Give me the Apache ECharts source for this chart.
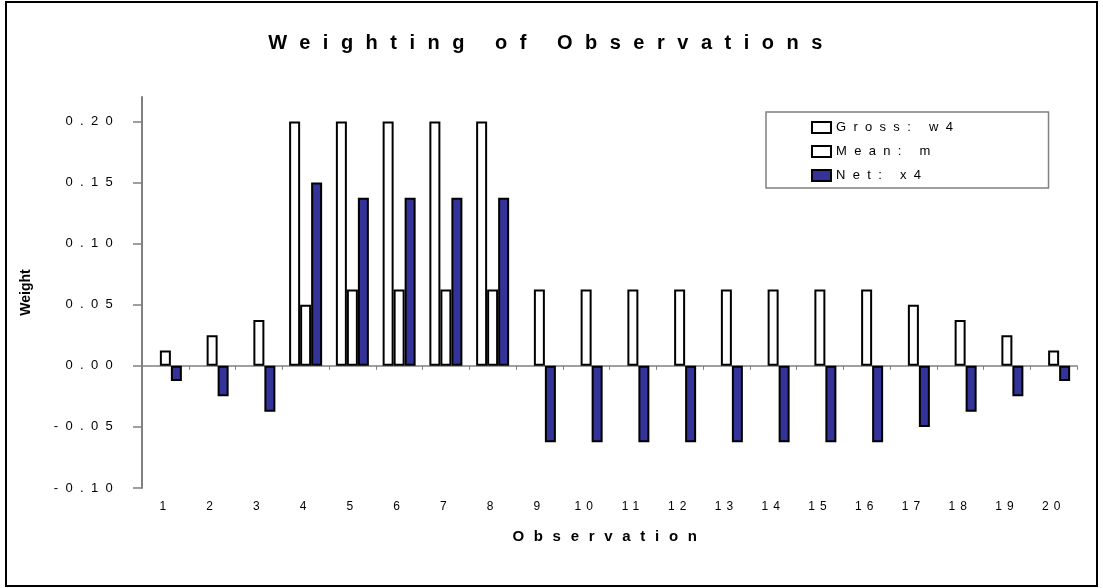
<!DOCTYPE html>
<html>
<head>
<meta charset="utf-8">
<script src="https://cdn.jsdelivr.net/npm/echarts@6/dist/echarts.min.js"></script>
<style>
html,body{margin:0;padding:0;background:#fff;}
#chart{width:1103px;height:588px;}
</style>
</head>
<body>
<div id="chart"></div>
<script>
// ---- data ----
const categories = ['1','2','3','4','5','6','7','8','9','10','11','12','13','14','15','16','17','18','19','20'];
const grossW4 = [null,null,null,0.2,0.2,0.2,0.2,0.2,null,null,null,null,null,null,null,null,null,null,null,null];
const meanM = [0.0125,0.025,0.0375,0.05,0.0625,0.0625,0.0625,0.0625,0.0625,0.0625,0.0625,0.0625,0.0625,0.0625,0.0625,0.0625,0.05,0.0375,0.025,0.0125];
const netX4 = [-0.0125,-0.025,-0.0375,0.15,0.1375,0.1375,0.1375,0.1375,-0.0625,-0.0625,-0.0625,-0.0625,-0.0625,-0.0625,-0.0625,-0.0625,-0.05,-0.0375,-0.025,-0.0125];
const yTicks = [-0.1,-0.05,0,0.05,0.1,0.15,0.2];
const seriesNames = ['Gross: w4','Mean: m','Net: x4'];

// spaced-out lettering like the original chart
(function(){
  const P = CanvasRenderingContext2D.prototype;
  const orig = P.fillText;
  function spacing(font){
    const m = /(\d+(?:\.\d+)?)px/.exec(font);
    const s = m ? parseFloat(m[1]) : 0;
    const bold = /bold|[6-9]00/.test(font);
    if (bold) { if (s >= 18) return 12.5; if (s >= 15) return 9.7; return 0; }
    if (s >= 13) return 7.3;
    if (s >= 12) return 5;
    return 0;
  }
  P.fillText = function(t, x, y, w){
    const prev = this.letterSpacing;
    this.letterSpacing = spacing(this.font) + 'px';
    if (w === undefined) orig.call(this, t, x, y); else orig.call(this, t, x, y, w);
    this.letterSpacing = prev;
  };
})();

const chart = echarts.init(document.getElementById('chart'));
const border = {borderColor:'#000', borderWidth:2};
chart.setOption({
  animation:false,
  backgroundColor:'#fff',
  title:{
    text:'Weighting of Observations', left:'center', top:28,
    textStyle:{fontFamily:'Arial', fontWeight:'bold', fontSize:20, color:'#000'}
  },
  legend:{
    orient:'vertical', left:766, top:112, icon:'rect',
    padding:[9,154,6,45], itemGap:11, itemWidth:19, itemHeight:11,
    backgroundColor:'#fff', borderColor:'#808080', borderWidth:1.5, borderRadius:0,
    textStyle:{fontFamily:'Arial', fontSize:13, color:'#000'},
    data:seriesNames
  },
  grid:{left:142, right:26, top:97, bottom:100, containLabel:false, outerBoundsMode:'none'},
  xAxis:[{
    type:'category', data:categories,
    axisLine:{onZero:true, lineStyle:{color:'#808080', width:1.5}},
    axisTick:{show:true, length:4, lineStyle:{color:'#808080', width:1}},
    axisLabel:{show:false}, splitLine:{show:false}
  },{
    type:'category', data:categories, position:'bottom',
    axisLine:{show:false}, axisTick:{show:false}, splitLine:{show:false},
    axisLabel:{fontFamily:'Arial', fontSize:12, color:'#000', margin:13},
    name:'Observation', nameLocation:'middle', nameGap:41,
    nameTextStyle:{fontFamily:'Arial', fontWeight:'bold', fontSize:15, color:'#000'}
  }],
  yAxis:{
    type:'value', min:-0.1, max:0.22, interval:0.05,
    axisLine:{show:true, lineStyle:{color:'#808080', width:2}},
    axisTick:{show:true, inside:false, length:9, customValues:yTicks, lineStyle:{color:'#808080', width:1.5}},
    axisLabel:{customValues:yTicks, formatter:v=>v.toFixed(2), fontFamily:'Arial', fontSize:13, color:'#000', margin:22},
    splitLine:{show:false},
    name:'Weight', nameLocation:'middle', nameRotate:90, nameGap:109,
    nameTextStyle:{fontFamily:'Arial', fontWeight:'bold', fontSize:14, color:'#000'}
  },
  graphic:[{
    type:'rect', silent:true, z:-1,
    shape:{x:6, y:2, width:1091, height:584},
    style:{fill:null, stroke:'#000', lineWidth:2}
  }],
  series:[
    {name:seriesNames[0], type:'bar', xAxisIndex:0, data:grossW4, barWidth:11, barGap:'0%', itemStyle:Object.assign({color:'#fff'}, border)},
    {name:seriesNames[1], type:'bar', xAxisIndex:0, data:meanM, barWidth:11, barGap:'0%', itemStyle:Object.assign({color:'#fff'}, border)},
    {name:seriesNames[2], type:'bar', xAxisIndex:0, data:netX4, barWidth:11, barGap:'0%', itemStyle:Object.assign({color:'#333399'}, border)}
  ]
});
</script>
</body>
</html>
